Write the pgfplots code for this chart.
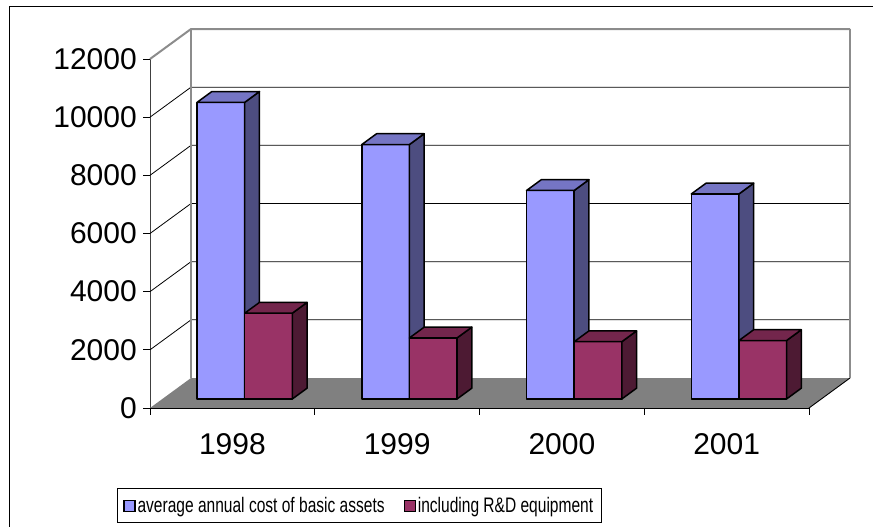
\documentclass[border=0pt]{standalone}
\usepackage{pgfplots}
\usepackage{pgfplotstable}
\pgfplotsset{compat=1.18}
\usepackage{fontspec}
\setmainfont{Liberation Sans}
\newfontfamily\legfont[FakeStretch=0.74]{Liberation Sans}
\definecolor{bluefront}{HTML}{9999FF}
\definecolor{blueside}{HTML}{4D4D80}
\definecolor{bluetop}{HTML}{7575C4}
\definecolor{redfront}{HTML}{993366}
\definecolor{redside}{HTML}{4D1A33}
\definecolor{redtop}{HTML}{73264C}
\definecolor{wallgray}{HTML}{8C8C8C}
\definecolor{floorgray}{HTML}{808080}

\pgfplotstableread{
idx basic rd
0 10200 2950
1 8750 2100
2 7170 1970
3 7050 2010
}\datatable

% depth geometry (axis units)
\def\ddx{0.2489}
\def\ddy{1031}
\def\fa{0.3}
\def\fb{0.66}
\def\bw{0.289}

\newcommand{\cuboid}[6]{%
  \pgfmathsetmacro\xA{#1+\fa*\ddx}%
  \pgfmathsetmacro\xB{#2+\fa*\ddx}%
  \pgfmathsetmacro\xC{#1+\fb*\ddx}%
  \pgfmathsetmacro\xD{#2+\fb*\ddx}%
  \pgfmathsetmacro\yA{\fa*\ddy}%
  \pgfmathsetmacro\yB{#3+\fa*\ddy}%
  \pgfmathsetmacro\yC{\fb*\ddy}%
  \pgfmathsetmacro\yD{#3+\fb*\ddy}%
  \edef\tmp{%
    \noexpand\addplot[fill=#4, draw=black, line width=1.5pt, line join=round, forget plot] coordinates {(\xA,\yA) (\xB,\yA) (\xB,\yB) (\xA,\yB)} --cycle;
    \noexpand\addplot[fill=#5, draw=black, line width=1.5pt, line join=round, forget plot] coordinates {(\xB,\yA) (\xD,\yC) (\xD,\yD) (\xB,\yB)} --cycle;
    \noexpand\addplot[fill=#6, draw=black, line width=1.5pt, line join=round, forget plot] coordinates {(\xA,\yB) (\xB,\yB) (\xD,\yD) (\xC,\yD)} --cycle;
  }%
  \tmp
}

\begin{document}
\begin{tikzpicture}
\begin{axis}[
  at={(150pt,119pt)}, anchor=south west,
  scale only axis, width=659pt, height=349pt,
  xmin=-0.5, xmax=3.5, ymin=0, ymax=12000,
  clip=false,
  axis x line*=bottom, axis y line*=left,
  x axis line style={-, black, line width=0.9pt},
  y axis line style={-, black!75, line width=0.9pt},
  tick align=outside,
  major tick length=7pt, minor tick length=7pt,
  ytick={0,2000,...,12000},
  scaled y ticks=false,
  /pgf/number format/1000 sep={},
  /pgf/number format/assume math mode=true,
  ytick style={black, line width=0.8pt},
  xtick={0,1,2,3},
  xticklabels={1998,1999,2000,2001},
  major x tick style={draw=none},
  minor xtick={-0.5,0.5,1.5,2.5,3.5},
  minor x tick style={black, line width=0.8pt},
  tick label style={font=\fontsize{30}{35}\selectfont},
  yticklabel style={inner sep=0pt, xshift=-6pt},
  xticklabel style={inner sep=0pt, yshift=-18pt},
  legend style={at={(axis description cs:-0.0501,-0.3295)}, anchor=south west,
    draw=black, line width=0.8pt, inner xsep=6pt, inner ysep=6.5pt,
    font=\legfont\fontsize{21}{25}\selectfont,
    legend columns=2, /tikz/every even column/.append style={column sep=17pt}},
  legend cell align=left,
  legend image code/.code={\draw[#1, draw=black, line width=1.2pt] (0pt,-5.5pt) rectangle (11pt,5.5pt);},
]
% left wall + back wall grid lines
\pgfplotsinvokeforeach{2000,4000,6000,8000,10000}{
  \addplot[black, line width=0.8pt, forget plot] coordinates {(-0.5,#1) (-0.2511,#1+1031) (3.7489,#1+1031)};
}
% floor
\addplot[fill=floorgray, draw=none, forget plot] coordinates {(-0.5,0) (3.5,0) (3.7489,1031) (-0.2511,1031)} --cycle;
\addplot[black, line width=0.9pt, forget plot] coordinates {(3.5,0) (3.7489,1031)};
% wall borders
\addplot[wallgray, line width=2pt, forget plot] coordinates {(-0.2511,1031) (-0.2511,13031)};
\addplot[wallgray, line width=2pt, forget plot] coordinates {(3.7489,1031) (3.7489,13031)};
\addplot[wallgray, line width=2pt, forget plot] coordinates {(-0.5,12000) (-0.2511,13031) (3.7489,13031)};
% bars
\pgfplotsforeachungrouped \i in {0,1,2,3}{%
  \pgfplotstablegetelem{\i}{basic}\of\datatable \let\vb\pgfplotsretval
  \pgfplotstablegetelem{\i}{rd}\of\datatable \let\vr\pgfplotsretval
  \cuboid{\i-\bw}{\i}{\vb}{bluefront}{blueside}{bluetop}%
  \cuboid{\i}{\i+\bw}{\vr}{redfront}{redside}{redtop}%
}
\addlegendimage{fill=bluefront}
\addlegendentry{average annual cost of basic assets}
\addlegendimage{fill=redfront}
\addlegendentry{including R\&D equipment}
\end{axis}
\draw[line width=1.3pt] (9.3pt,-20pt) |- (900pt,520.3pt);
\pgfresetboundingbox
\path[use as bounding box] (0,0) rectangle (873pt,527pt);
\end{tikzpicture}
\end{document}
